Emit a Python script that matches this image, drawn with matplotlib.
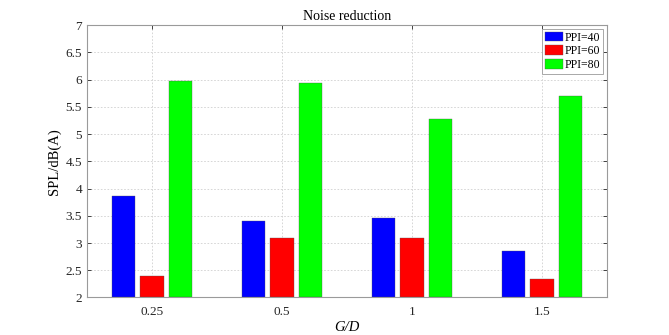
import matplotlib.pyplot as plt
import numpy as np

plt.rcParams["font.family"] = ["Liberation Serif", "DejaVu Serif"]

gd_labels = ["0.25", "0.5", "1", "1.5"]
ppi_labels = ["PPI=40", "PPI=60", "PPI=80"]
ppi40 = [3.87, 3.41, 3.46, 2.86]
ppi60 = [2.40, 3.09, 3.10, 2.34]
ppi80 = [5.97, 5.94, 5.27, 5.70]
colors = ["#0000ff", "#ff0000", "#00ff00"]

fig = plt.figure(figsize=(6.69, 3.35), dpi=100)
ax = fig.add_axes([0.130, 0.112, 0.777, 0.813])

x = np.arange(1, len(gd_labels) + 1)
width = 0.18
offset = 0.22
for i, (vals, lab) in enumerate(zip([ppi40, ppi60, ppi80], ppi_labels)):
    ax.bar(x + (i - 1) * offset, np.array(vals) - 2, width, bottom=2,
           color=colors[i], edgecolor="#555555", linewidth=0.25, label=lab,
           zorder=3)

ax.set_xlim(0.5, 4.5)
ax.set_ylim(2, 7)
ax.set_xticks(x)
ax.set_xticklabels(gd_labels)
ax.set_yticks(np.arange(2, 7.01, 0.5))
ax.set_yticklabels(["2", "2.5", "3", "3.5", "4", "4.5", "5", "5.5", "6", "6.5", "7"])
ax.tick_params(direction="in", length=3, labelsize=9.5, colors="#262626",
               top=True, right=True, width=0.6)
ax.tick_params(axis="x", pad=6)
ax.grid(True, linestyle=(0, (2, 2)), color="#d0d0d0", linewidth=0.6, zorder=0)
for s in ax.spines.values():
    s.set_color("#9a9a9a")
    s.set_linewidth(0.8)

ax.set_title("Noise reduction", fontsize=10, pad=4)
ax.set_ylabel("SPL/dB(A)", fontsize=10.5, labelpad=3)
ax.set_xlabel("G/D", fontsize=10.5, style="italic", labelpad=2)

leg = ax.legend(loc="upper right", fontsize=8.5, handlelength=1.6,
                handleheight=0.9, handletextpad=0.1, borderpad=0.25,
                labelspacing=0.15, borderaxespad=0.3, fancybox=False,
                framealpha=1, edgecolor="#9a9a9a")
leg.get_frame().set_linewidth(0.6)

fig.savefig("out.png", dpi=100)
